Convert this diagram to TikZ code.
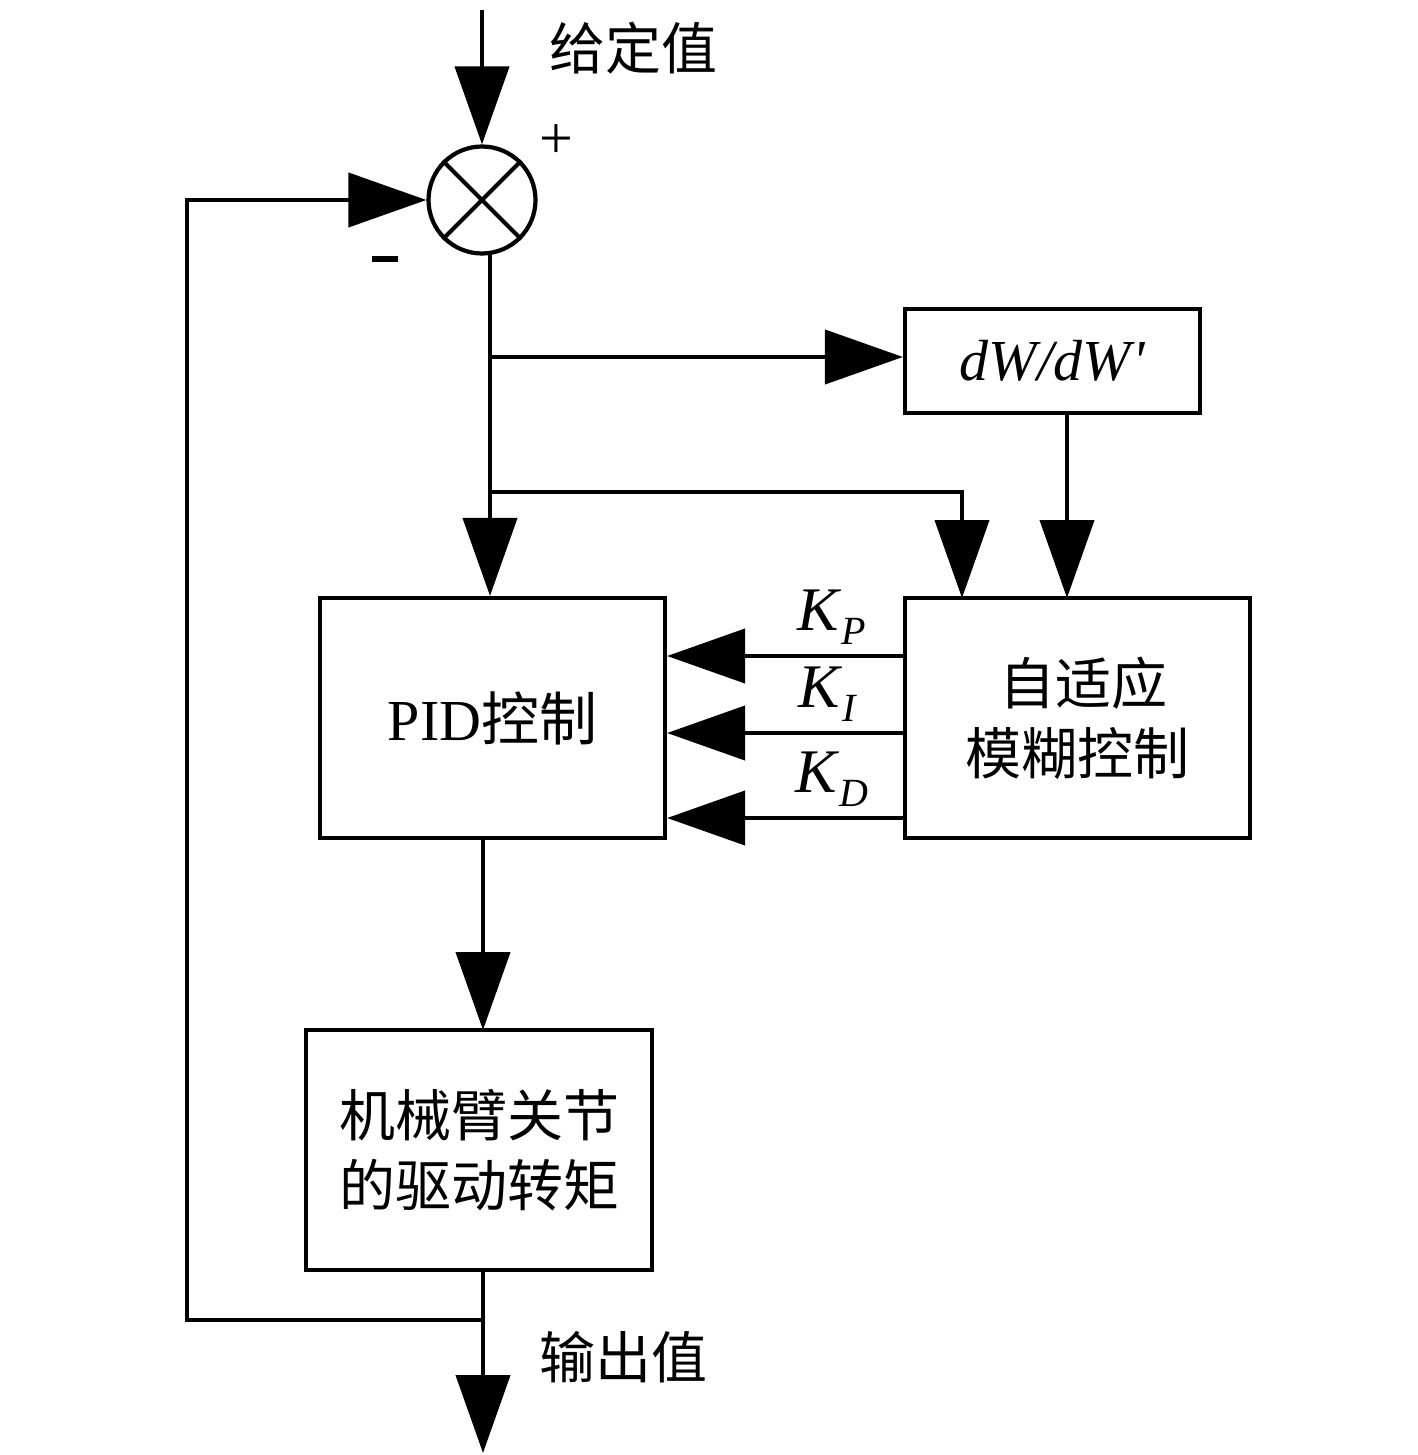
\documentclass[tikz,border=0pt]{standalone}
\usepackage{fontspec}
\setmainfont{Liberation Serif}
\newfontfamily\cjk{Noto Sans CJK SC}
\usetikzlibrary{arrows.meta,calc}
\begin{document}
\begin{tikzpicture}[x=1pt,y=-1pt,line width=4.2pt,
  arr/.style={-{Triangle[length=78pt,width=54pt]}},
  blk/.style={draw,line width=4.2pt,inner sep=0pt,align=center},
  zh/.style={font=\fontsize{56}{70}\selectfont\cjk},
  lat/.style={font=\fontsize{58}{70}\selectfont}]
\useasboundingbox (0,0) rectangle (1417,1455);
% blocks
\node[draw,circle,line width=4.2pt,minimum size=107pt,inner sep=0pt] (sum) at (482,200) {};
\draw (sum.north west) -- (sum.south east) (sum.north east) -- (sum.south west);
\node[blk,minimum width=295pt,minimum height=104pt,lat] (dw) at (1052.5,361) {\itshape dW/dW\kern2pt\textquotesingle};
\node[blk,minimum width=345pt,minimum height=240pt,lat] (pid) at (492.5,718) {PID{\cjk 控制}};
\node[blk,minimum width=345pt,minimum height=240pt,zh] (fz) at (1077.5,718) {\hspace*{12pt}自适应\\模糊控制};
\node[blk,minimum width=346pt,minimum height=240pt,zh] (act) at (479,1150) {机械臂关节\\的驱动转矩};
% labels
\node[zh] (lin) at (633,48) {给定值};
\node[zh] (lout) at (623,1357) {输出值};
\node[font=\fontsize{60}{60}\selectfont] (plus) at (556,142) {+};
\node (minus) at (385,259) {\rule{26pt}{5.5pt}};
\newcommand{\Klab}[1]{\textit{K}\raisebox{-14pt}{\fontsize{40}{40}\selectfont\textit{#1}}}
\node[font=\fontsize{62}{62}\selectfont] (kp) at (832,617) {\Klab{P}};
\node[font=\fontsize{62}{62}\selectfont] (ki) at (828,694) {\Klab{I}};
\node[font=\fontsize{62}{62}\selectfont] (kd) at (832,779) {\Klab{D}};
% coordinates
\coordinate (in) at (482,10);
\coordinate (s0) at (490,253);
\coordinate (b1) at (490,357);
\coordinate (b2) at (490,492);
\coordinate (f1) at (962,598);
\coordinate (d0) at (1067,413);
\coordinate (d1) at (1067,598);
\coordinate (p0) at (483,838);
\coordinate (a0) at (483,1030);
\coordinate (a1) at (483,1270);
\coordinate (fb) at (483,1320);
\coordinate (fl) at (187,1320);
\coordinate (out) at (483,1453);
% connectors
\draw[arr] (in) -- (sum.north);
\draw[arr] (s0) -- (s0 |- pid.north);
\draw[arr] (b1) -- (b1 -| dw.west);
\draw[arr] (b2) -| (f1);
\draw[arr] (d0) -- (d1);
\draw[arr] (fz.west |- 0,656) -- (pid.east |- 0,656);
\draw[arr] (fz.west |- 0,733) -- (pid.east |- 0,733);
\draw[arr] (fz.west |- 0,818) -- (pid.east |- 0,818);
\draw[arr] (p0) -- (a0);
\draw[arr] (a1) -- (out);
\draw[arr] (fb) -- (fl) |- (sum.west);
\end{tikzpicture}
\end{document}
